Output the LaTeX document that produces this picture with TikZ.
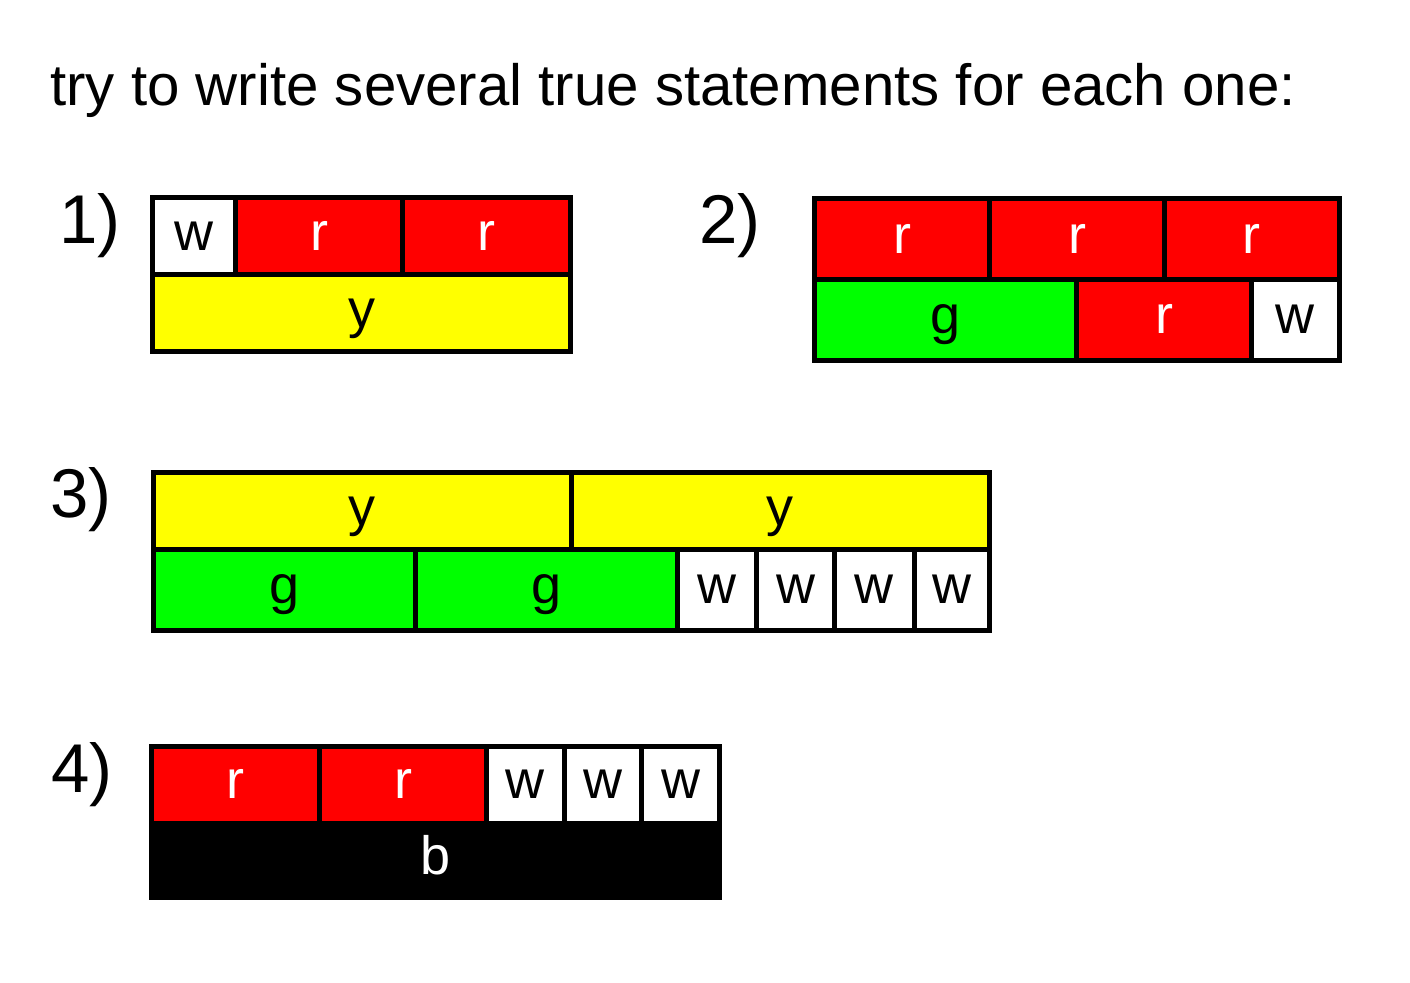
\documentclass[tikz,border=0pt]{standalone}
\usepackage{fontspec}
\setmainfont{Liberation Sans}
\usetikzlibrary{positioning}
\definecolor{cellred}{RGB}{255,0,0}
\definecolor{cellyellow}{RGB}{255,255,0}
\definecolor{cellgreen}{RGB}{0,255,0}
\tikzset{%
  cell/.style = {rectangle,draw,line width=2.5pt,inner sep=0pt,outer sep=0pt,
        text height=14pt,text depth=0pt,font=\fontsize{27}{27}\selectfont},
  cw/.style = {minimum width=#1*0.5pt},
  ch/.style = {minimum height=#1*0.5pt},
  rcell/.style = {cell,fill=cellred,text=white},
  ycell/.style = {cell,fill=cellyellow},
  gcell/.style = {cell,fill=cellgreen},
  wcell/.style = {cell,fill=white},
  bcell/.style = {cell,fill=black,text=white},
  num/.style = {anchor=base west,inner sep=0pt,font=\fontsize{34.5}{34.5}\selectfont},
  head/.style = {anchor=base west,inner sep=0pt,font=\fontsize{29.1}{29.1}\selectfont}
}

\begin{document}
\begin{tikzpicture}[x=0.5pt,y=-0.5pt]
\useasboundingbox (0,0) rectangle (1410,982);
\node[head] (title) at (50,105) {try to write several true statements for each one:};

% 1)
\node[num] (n1) at (59,243) {1)};
\node[wcell,cw=83,ch=77,anchor=north west] (q1a) at (152.5,197.5) {w};
\node[rcell,cw=167,ch=77,right=0pt of q1a] (q1b) {r};
\node[rcell,cw=168,ch=77,right=0pt of q1b] (q1c) {r};
\node[ycell,cw=418,ch=77,anchor=north west] (q1d) at (q1a.south west) {y};

% 2)
\node[num] (n2) at (699,243) {2)};
\node[rcell,cw=175,ch=81,anchor=north west] (q2a) at (814.5,198.5) {r};
\node[rcell,cw=175,ch=81,right=0pt of q2a] (q2b) {r};
\node[rcell,cw=174.5,ch=81,right=0pt of q2b] (q2c) {r};
\node[gcell,cw=262,ch=80.5,anchor=north west] (q2d) at (q2a.south west) {g};
\node[rcell,cw=175,ch=80.5,right=0pt of q2d] (q2e) {r};
\node[wcell,cw=87.5,ch=80.5,right=0pt of q2e] (q2f) {w};

% 3)
\node[num] (n3) at (50,517) {3)};
\node[ycell,cw=417.5,ch=77,anchor=north west] (q3a) at (153.5,472.5) {y};
\node[ycell,cw=418,ch=77,right=0pt of q3a] (q3b) {y};
\node[gcell,cw=262,ch=80.5,anchor=north west] (q3c) at (q3a.south west) {g};
\node[gcell,cw=261.5,ch=80.5,right=0pt of q3c] (q3d) {g};
\node[wcell,cw=79.5,ch=80.5,right=0pt of q3d] (q3e) {w};
\node[wcell,cw=78,ch=80.5,right=0pt of q3e] (q3f) {w};
\node[wcell,cw=79.5,ch=80.5,right=0pt of q3f] (q3g) {w};
\node[wcell,cw=75,ch=80.5,right=0pt of q3g] (q3h) {w};

% 4)
\node[num] (n4) at (51,792) {4)};
\node[rcell,cw=168,ch=76.5,anchor=north west] (q4a) at (151.5,746.5) {r};
\node[rcell,cw=167,ch=76.5,right=0pt of q4a] (q4b) {r};
\node[wcell,cw=77.5,ch=76.5,right=0pt of q4b] (q4c) {w};
\node[wcell,cw=77.5,ch=76.5,right=0pt of q4c] (q4d) {w};
\node[wcell,cw=78.3,ch=76.5,right=0pt of q4d] (q4e) {w};
\node[bcell,cw=568.3,ch=74.5,anchor=north west] (q4f) at (q4a.south west) {b};
\end{tikzpicture}
\end{document}
